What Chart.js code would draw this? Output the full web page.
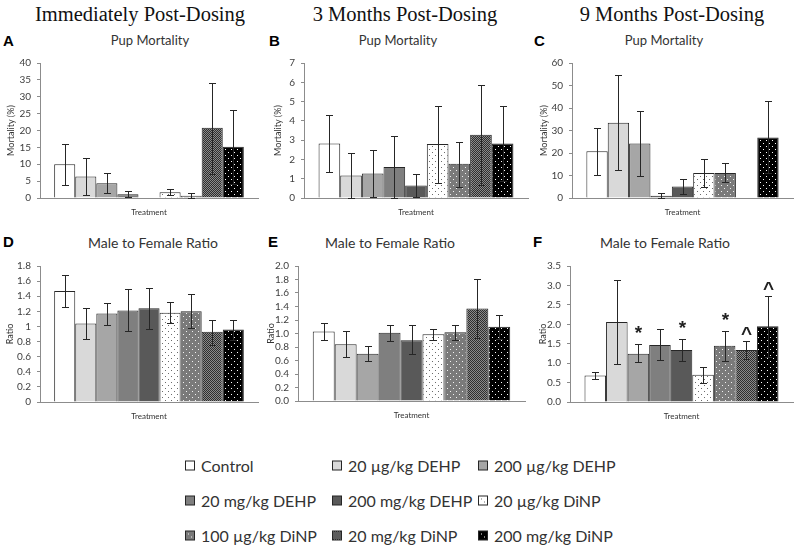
<!DOCTYPE html>
<html lang="en">
<head>
<meta charset="UTF-8">
<title>Pup Mortality and Male to Female Ratio</title>
<script src="https://cdn.jsdelivr.net/npm/chart.js"></script>
<style>
    body { margin: 0; width: 800px; height: 548px; position: relative; overflow: hidden; background: #fff;
           font-family: Lato, "Open Sans", sans-serif; color: #333; }
    .col-head { position: absolute; top: 14px; transform: translate(-50%, -50%); white-space: nowrap;
                font-family: "Liberation Serif", "DejaVu Serif", serif; font-size: 20.5px; color: #111; }
    .letter { position: absolute; font-family: "Liberation Sans", Arial, sans-serif; font-weight: bold; font-size: 15px; color: #000; }
    .sub { position: absolute; transform: translate(-50%, -50%); white-space: nowrap; color: #333; }
    canvas.panel { position: absolute; }
    .leg { position: absolute; display: flex; align-items: center; font-size: 16px; color: #333; white-space: nowrap; transform: translateY(-50%); }
    .leg canvas { margin-right: 6px; }
</style>
</head>
<body>

<div class="col-head" style="left:140px">Immediately Post-Dosing</div>
<div class="col-head" style="left:405px">3 Months Post-Dosing</div>
<div class="col-head" style="left:672px">9 Months Post-Dosing</div>

<div class="letter" style="left:3px;top:32px">A</div>
<div class="letter" style="left:269px;top:32px">B</div>
<div class="letter" style="left:534px;top:32px">C</div>
<div class="letter" style="left:3px;top:233px">D</div>
<div class="letter" style="left:268px;top:233px">E</div>
<div class="letter" style="left:533px;top:233px">F</div>

<div class="sub" style="left:150px;top:40px;font-size:13px">Pup Mortality</div>
<div class="sub" style="left:398px;top:40px;font-size:13px">Pup Mortality</div>
<div class="sub" style="left:664px;top:40px;font-size:13px">Pup Mortality</div>
<div class="sub" style="left:153px;top:242px;font-size:14px">Male to Female Ratio</div>
<div class="sub" style="left:390px;top:242px;font-size:14px">Male to Female Ratio</div>
<div class="sub" style="left:665px;top:242px;font-size:14px">Male to Female Ratio</div>

<canvas id="chartA" class="panel" width="262" height="168" style="left:0px;top:50px"></canvas>
<canvas id="chartB" class="panel" width="268" height="168" style="left:264px;top:50px"></canvas>
<canvas id="chartC" class="panel" width="265" height="168" style="left:532px;top:50px"></canvas>
<canvas id="chartD" class="panel" width="262" height="169" style="left:0px;top:253px"></canvas>
<canvas id="chartE" class="panel" width="271" height="168" style="left:258px;top:253px"></canvas>
<canvas id="chartF" class="panel" width="267" height="169" style="left:530px;top:253px"></canvas>

<div id="legend"></div>

<script>
    // Treatment groups (series)
    const treatments = ['Control', '20 µg/kg DEHP', '200 µg/kg DEHP', '20 mg/kg DEHP', '200 mg/kg DEHP',
                        '20 µg/kg DiNP', '100 µg/kg DiNP', '20 mg/kg DiNP', '200 mg/kg DiNP'];

    // A - Pup mortality (%), immediately post-dosing
    const mortImmMean = [10.0, 6.4, 4.4, 1.1, null, 1.7, 0.7, 20.8, 15.2];
    const mortImmLow  = [3.9, 1.0, 1.5, 0.3, null, 0.8, 0.0, 7.2, 4.1];
    const mortImmHigh = [16.0, 12.0, 7.4, 2.2, null, 2.6, 1.4, 34.0, 26.2];

    // B - Pup mortality (%), 3 months post-dosing
    const mort3Mean = [2.83, 1.17, 1.27, 1.61, 0.65, 2.80, 1.77, 3.28, 2.83];
    const mort3Low  = [1.34, 0.0, 0.05, 0.02, 0.03, 0.77, 0.55, 0.65, 0.88];
    const mort3High = [4.32, 2.35, 2.49, 3.20, 1.27, 4.77, 2.88, 5.88, 4.77];

    // C - Pup mortality (%), 9 months post-dosing
    const mort9Mean = [20.8, 33.5, 24.2, 1.0, 5.1, 11.1, 11.1, null, 26.9];
    const mort9Low  = [10.4, 12.3, 9.7, 0.0, 1.8, 4.7, 7.0, null, 10.9];
    const mort9High = [31.3, 54.5, 38.5, 2.2, 8.5, 17.4, 15.4, null, 42.9];

    // D - Male to female ratio, immediately post-dosing
    const ratioImmMean = [1.47, 1.04, 1.17, 1.21, 1.24, 1.18, 1.20, 0.93, 0.96];
    const ratioImmLow  = [1.26, 0.83, 1.02, 0.94, 0.97, 1.04, 0.98, 0.76, 0.82];
    const ratioImmHigh = [1.68, 1.24, 1.31, 1.50, 1.51, 1.33, 1.43, 1.09, 1.09];

    // E - Male to female ratio, 3 months post-dosing
    const ratio3Mean = [1.03, 0.84, 0.70, 1.01, 0.90, 0.99, 1.02, 1.37, 1.10];
    const ratio3Low  = [0.90, 0.65, 0.60, 0.89, 0.70, 0.91, 0.91, 0.94, 0.92];
    const ratio3High = [1.15, 1.03, 0.82, 1.12, 1.12, 1.07, 1.13, 1.80, 1.27];

    // F - Male to female ratio, 9 months post-dosing
    const ratio9Mean = [0.68, 2.06, 1.24, 1.47, 1.34, 0.70, 1.45, 1.34, 1.95];
    const ratio9Low  = [0.59, 0.98, 1.02, 1.08, 1.05, 0.50, 1.05, 1.10, 1.17];
    const ratio9High = [0.77, 3.15, 1.49, 1.89, 1.62, 0.90, 1.84, 1.58, 2.74];
    const ratio9Marks = ['', '', '*', '', '*', '', '*', '^', '^'];

    // Fill patterns (Excel-like)
    function dotPattern(bg, dot, step, size) {
        const c = document.createElement('canvas');
        c.width = step * 2; c.height = step * 2;
        const g = c.getContext('2d');
        g.fillStyle = bg;
        g.fillRect(0, 0, c.width, c.height);
        g.fillStyle = dot;
        g.fillRect(0, 0, size, size);
        g.fillRect(step, step, size, size);
        return c;
    }
    function fillFor(ctx, i) {
        switch (i) {
            case 0: return '#ffffff';
            case 1: return '#d9d9d9';
            case 2: return '#a6a6a6';
            case 3: return '#7f7f7f';
            case 4: return '#595959';
            case 5: return ctx.createPattern(dotPattern('#ffffff', '#6b6b6b', 3, 1), 'repeat');
            case 6: return ctx.createPattern(dotPattern('#7a7a7a', '#f2f2f2', 3, 1), 'repeat');
            case 7: return ctx.createPattern(dotPattern('#2e2e2e', '#8a8a8a', 1, 1), 'repeat');
            case 8: return ctx.createPattern(dotPattern('#000000', '#ffffff', 3, 1), 'repeat');
        }
    }

    // Draws error bars and significance marks over the bars
    const errorBars = {
        id: 'errorBars',
        afterDatasetsDraw(chart, args, opts) {
            const ctx = chart.ctx;
            const y = chart.scales.y;
            ctx.save();
            ctx.strokeStyle = '#262626';
            ctx.lineWidth = 1;
            chart.data.datasets.forEach((ds, i) => {
                if (ds.data[0] == null) return;
                const bar = chart.getDatasetMeta(i).data[0];
                const x = Math.round(bar.x) + 0.5;
                const yl = Math.round(y.getPixelForValue(opts.low[i])) + 0.5;
                const yh = Math.round(y.getPixelForValue(opts.high[i])) + 0.5;
                ctx.beginPath();
                ctx.moveTo(x, yl); ctx.lineTo(x, yh);
                ctx.moveTo(x - 3.5, yl); ctx.lineTo(x + 3.5, yl);
                ctx.moveTo(x - 3.5, yh); ctx.lineTo(x + 3.5, yh);
                ctx.stroke();
                const mark = opts.marks ? opts.marks[i] : '';
                if (mark) {
                    ctx.fillStyle = '#222';
                    ctx.textAlign = 'center';
                    ctx.textBaseline = 'alphabetic';
                    ctx.font = 'bold 19px "Liberation Sans", Arial, sans-serif';
                    ctx.fillText(mark, x, mark === '*' ? yh - 6 : yh - 2);
                }
            });
            ctx.restore();
        }
    };

    function makeChart(id, mean, low, high, marks, yTitle, max, step, fmt, titlePad) {
        const canvas = document.getElementById(id);
        const ctx = canvas.getContext('2d');
        return new Chart(ctx, {
            type: 'bar',
            data: {
                labels: [''],
                datasets: treatments.map((t, i) => ({
                    label: t,
                    data: [mean[i]],
                    backgroundColor: fillFor(ctx, i),
                    borderColor: '#262626',
                    borderWidth: 1,
                    barPercentage: 1,
                    categoryPercentage: 0.87
                }))
            },
            options: {
                responsive: false,
                animation: false,
                devicePixelRatio: 1,
                layout: { padding: { top: 13, left: 0, right: 4, bottom: 1 } },
                plugins: {
                    legend: { display: false },
                    tooltip: { enabled: false },
                    errorBars: { low: low, high: high, marks: marks }
                },
                scales: {
                    x: {
                        grid: { display: false },
                        border: { display: true, color: '#8c8c8c', width: 1 },
                        ticks: { display: false },
                        title: { display: true, text: 'Treatment', color: '#333', padding: 0,
                                 font: { family: 'Lato', size: 8 } },
                        afterFit: s => { s.height = 19; }
                    },
                    y: {
                        min: 0, max: max,
                        grid: { display: true, drawOnChartArea: false, drawTicks: true, tickLength: 3, color: '#8c8c8c' },
                        border: { display: true, color: '#8c8c8c', width: 1 },
                        ticks: { stepSize: step, autoSkip: false, padding: 6, color: '#404040',
                                 font: { family: 'Lato', size: 10 }, callback: v => fmt(v) },
                        title: { display: true, text: yTitle, color: '#333', padding: { top: titlePad, bottom: 0 },
                                 font: { family: 'Lato', size: 9 } },
                        afterFit: s => { s.width = 40; }
                    }
                }
            },
            plugins: [errorBars]
        });
    }

    const intFmt = v => String(Math.round(v));
    const plainFmt = v => String(Math.round(v * 10) / 10);
    const oneDec = v => (Math.round(v * 10) / 10).toFixed(1);

    makeChart('chartA', mortImmMean, mortImmLow, mortImmHigh, null, 'Mortality (%)', 40, 5, intFmt, 5.6);
    makeChart('chartB', mort3Mean, mort3Low, mort3High, null, 'Mortality (%)', 7, 1, intFmt, 8.6);
    makeChart('chartC', mort9Mean, mort9Low, mort9High, null, 'Mortality (%)', 60, 10, intFmt, 6.6);
    makeChart('chartD', ratioImmMean, ratioImmLow, ratioImmHigh, null, 'Ratio', 1.8, 0.2, plainFmt, 4.6);
    makeChart('chartE', ratio3Mean, ratio3Low, ratio3High, null, 'Ratio', 2.0, 0.2, oneDec, 7.6);
    makeChart('chartF', ratio9Mean, ratio9Low, ratio9High, ratio9Marks, 'Ratio', 3.5, 0.5, oneDec, 7.6);

    // Legend: 3 columns x 3 rows
    const legend = document.getElementById('legend');
    const legCols = [185, 332, 478];
    const legRows = [465, 500, 535];
    treatments.forEach((t, i) => {
        const item = document.createElement('div');
        item.className = 'leg';
        item.style.left = legCols[i % 3] + 'px';
        item.style.top = legRows[Math.floor(i / 3)] + 'px';
        const sw = document.createElement('canvas');
        sw.width = 10; sw.height = 10;
        const g = sw.getContext('2d');
        g.fillStyle = fillFor(g, i);
        g.fillRect(0, 0, 10, 10);
        g.strokeStyle = '#262626';
        g.strokeRect(0.5, 0.5, 9, 9);
        item.appendChild(sw);
        item.appendChild(document.createTextNode(t));
        legend.appendChild(item);
    });
</script>
</body>
</html>
